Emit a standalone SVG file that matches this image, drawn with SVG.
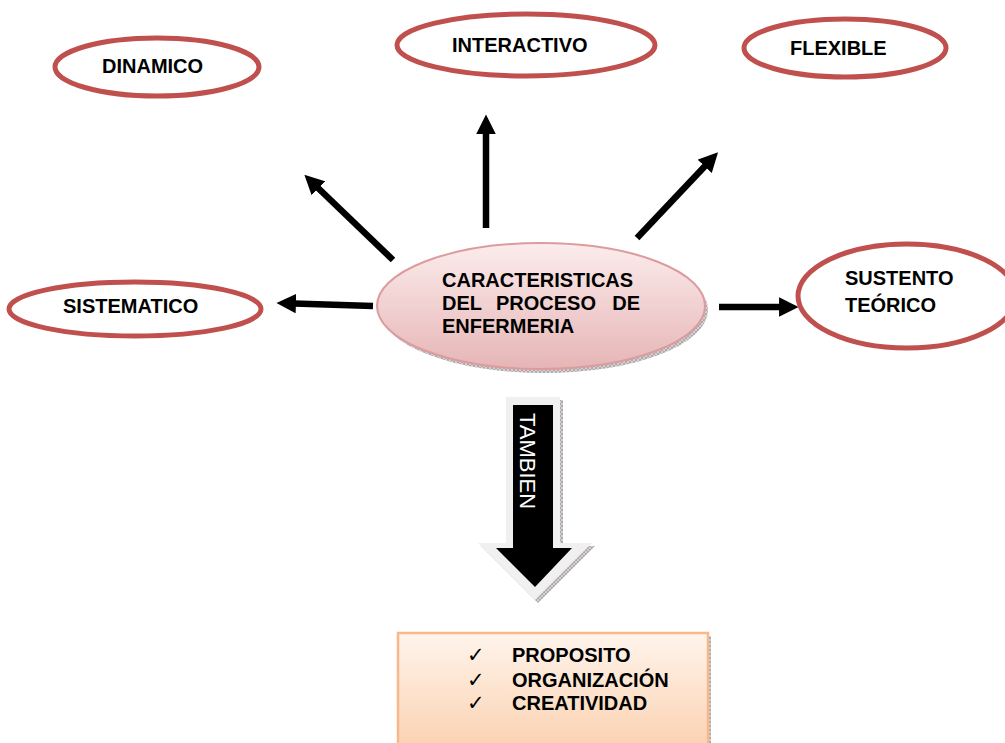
<svg xmlns="http://www.w3.org/2000/svg" width="1005" height="743" viewBox="0 0 1005 743">
<style>
.oval{fill:#fff;stroke:#c0504d;stroke-width:5}
.lbl{font-family:"Liberation Sans",Arial,sans-serif;font-weight:bold;font-size:20px;fill:#000}
.conn{stroke:#000;stroke-width:6.5;fill:none;marker-end:url(#head)}
.chk{font-family:"DejaVu Sans",sans-serif;font-size:21px;fill:#000}
</style>
<defs>
<marker id="head" viewBox="0 0 10 10" refX="1" refY="5" markerWidth="3" markerHeight="3" orient="auto" markerUnits="strokeWidth">
<path d="M0,0 L10,5 L0,10 Z" fill="#000"/>
</marker>
<pattern id="tex" width="4" height="4" patternUnits="userSpaceOnUse">
<rect width="4" height="4" fill="#d8d0d0"/>
<path d="M0,0 L4,4 M4,0 L0,4" stroke="#9a9a9a" stroke-width="0.7"/>
</pattern>
<linearGradient id="pink" x1="0" y1="0" x2="0" y2="1">
<stop offset="0" stop-color="#fcecec"/>
<stop offset="1" stop-color="#e6b5b6"/>
</linearGradient>
<linearGradient id="peach" x1="0" y1="0" x2="0" y2="1">
<stop offset="0" stop-color="#fff4ec"/>
<stop offset="1" stop-color="#fbd2b1"/>
</linearGradient>
</defs>

<g id="connectors">
<line class="conn" x1="393" y1="260" x2="317" y2="187"/>
<line class="conn" x1="486" y1="228" x2="486" y2="132"/>
<line class="conn" x1="637" y1="238" x2="706" y2="165"/>
<line class="conn" x1="373" y1="306" x2="294" y2="303.5"/>
<line class="conn" x1="719" y1="307" x2="781" y2="307"/>
</g>

<g id="dinamico">
<ellipse class="oval" cx="157" cy="67" rx="102" ry="29"/>
<text class="lbl" x="102" y="73">DINAMICO</text>
</g>
<g id="interactivo">
<ellipse class="oval" cx="526" cy="45" rx="129" ry="31"/>
<text class="lbl" x="452" y="52">INTERACTIVO</text>
</g>
<g id="flexible">
<ellipse class="oval" cx="845" cy="48" rx="101" ry="29"/>
<text class="lbl" x="790" y="55">FLEXIBLE</text>
</g>
<g id="sistematico">
<ellipse class="oval" cx="135" cy="309" rx="126" ry="27"/>
<text class="lbl" x="63" y="313">SISTEMATICO</text>
</g>
<g id="sustento">
<ellipse class="oval" cx="907" cy="296" rx="109" ry="52"/>
<text class="lbl" x="845" y="285">SUSTENTO</text>
<text class="lbl" x="845" y="312">TEÓRICO</text>
</g>

<g id="centro">
<ellipse cx="544" cy="310" rx="164" ry="63" fill="url(#tex)"/>
<ellipse cx="541" cy="306" rx="164" ry="63" fill="url(#pink)" stroke="#dc9c9e" stroke-width="2"/>
<text class="lbl" x="442" y="287">CARACTERISTICAS</text>
<text class="lbl" x="442" y="310">DEL</text>
<text class="lbl" x="496" y="310">PROCESO</text>
<text class="lbl" x="640" y="310" text-anchor="end">DE</text>
<text class="lbl" x="442" y="333">ENFERMERIA</text>
</g>

<g id="tambien">
<path d="M509,400 H563 V546 H595 L538,603 L481,546 H509 Z" fill="url(#tex)"/>
<path d="M506,397 H560 V543 H592 L535,600 L478,543 H506 Z" fill="#f0f0f0"/>
<path d="M513,405 H553 V548 H572 L535,587 L496,548 H513 Z" fill="#000"/>
<text transform="translate(520,413) rotate(90)" font-family="'Liberation Sans',Arial,sans-serif" font-size="22" fill="#fff">TAMBIEN</text>
</g>

<g id="lista">
<rect x="401" y="636" width="310" height="115" fill="url(#tex)"/>
<rect x="398" y="633" width="310" height="115" fill="url(#peach)" stroke="#f7b98c" stroke-width="2.5"/>
<text class="chk" x="467" y="662">✓</text>
<text class="chk" x="467" y="687">✓</text>
<text class="chk" x="467" y="710">✓</text>
<text class="lbl" x="512" y="662">PROPOSITO</text>
<text class="lbl" x="512" y="687">ORGANIZACIÓN</text>
<text class="lbl" x="512" y="710">CREATIVIDAD</text>
</g>
</svg>
